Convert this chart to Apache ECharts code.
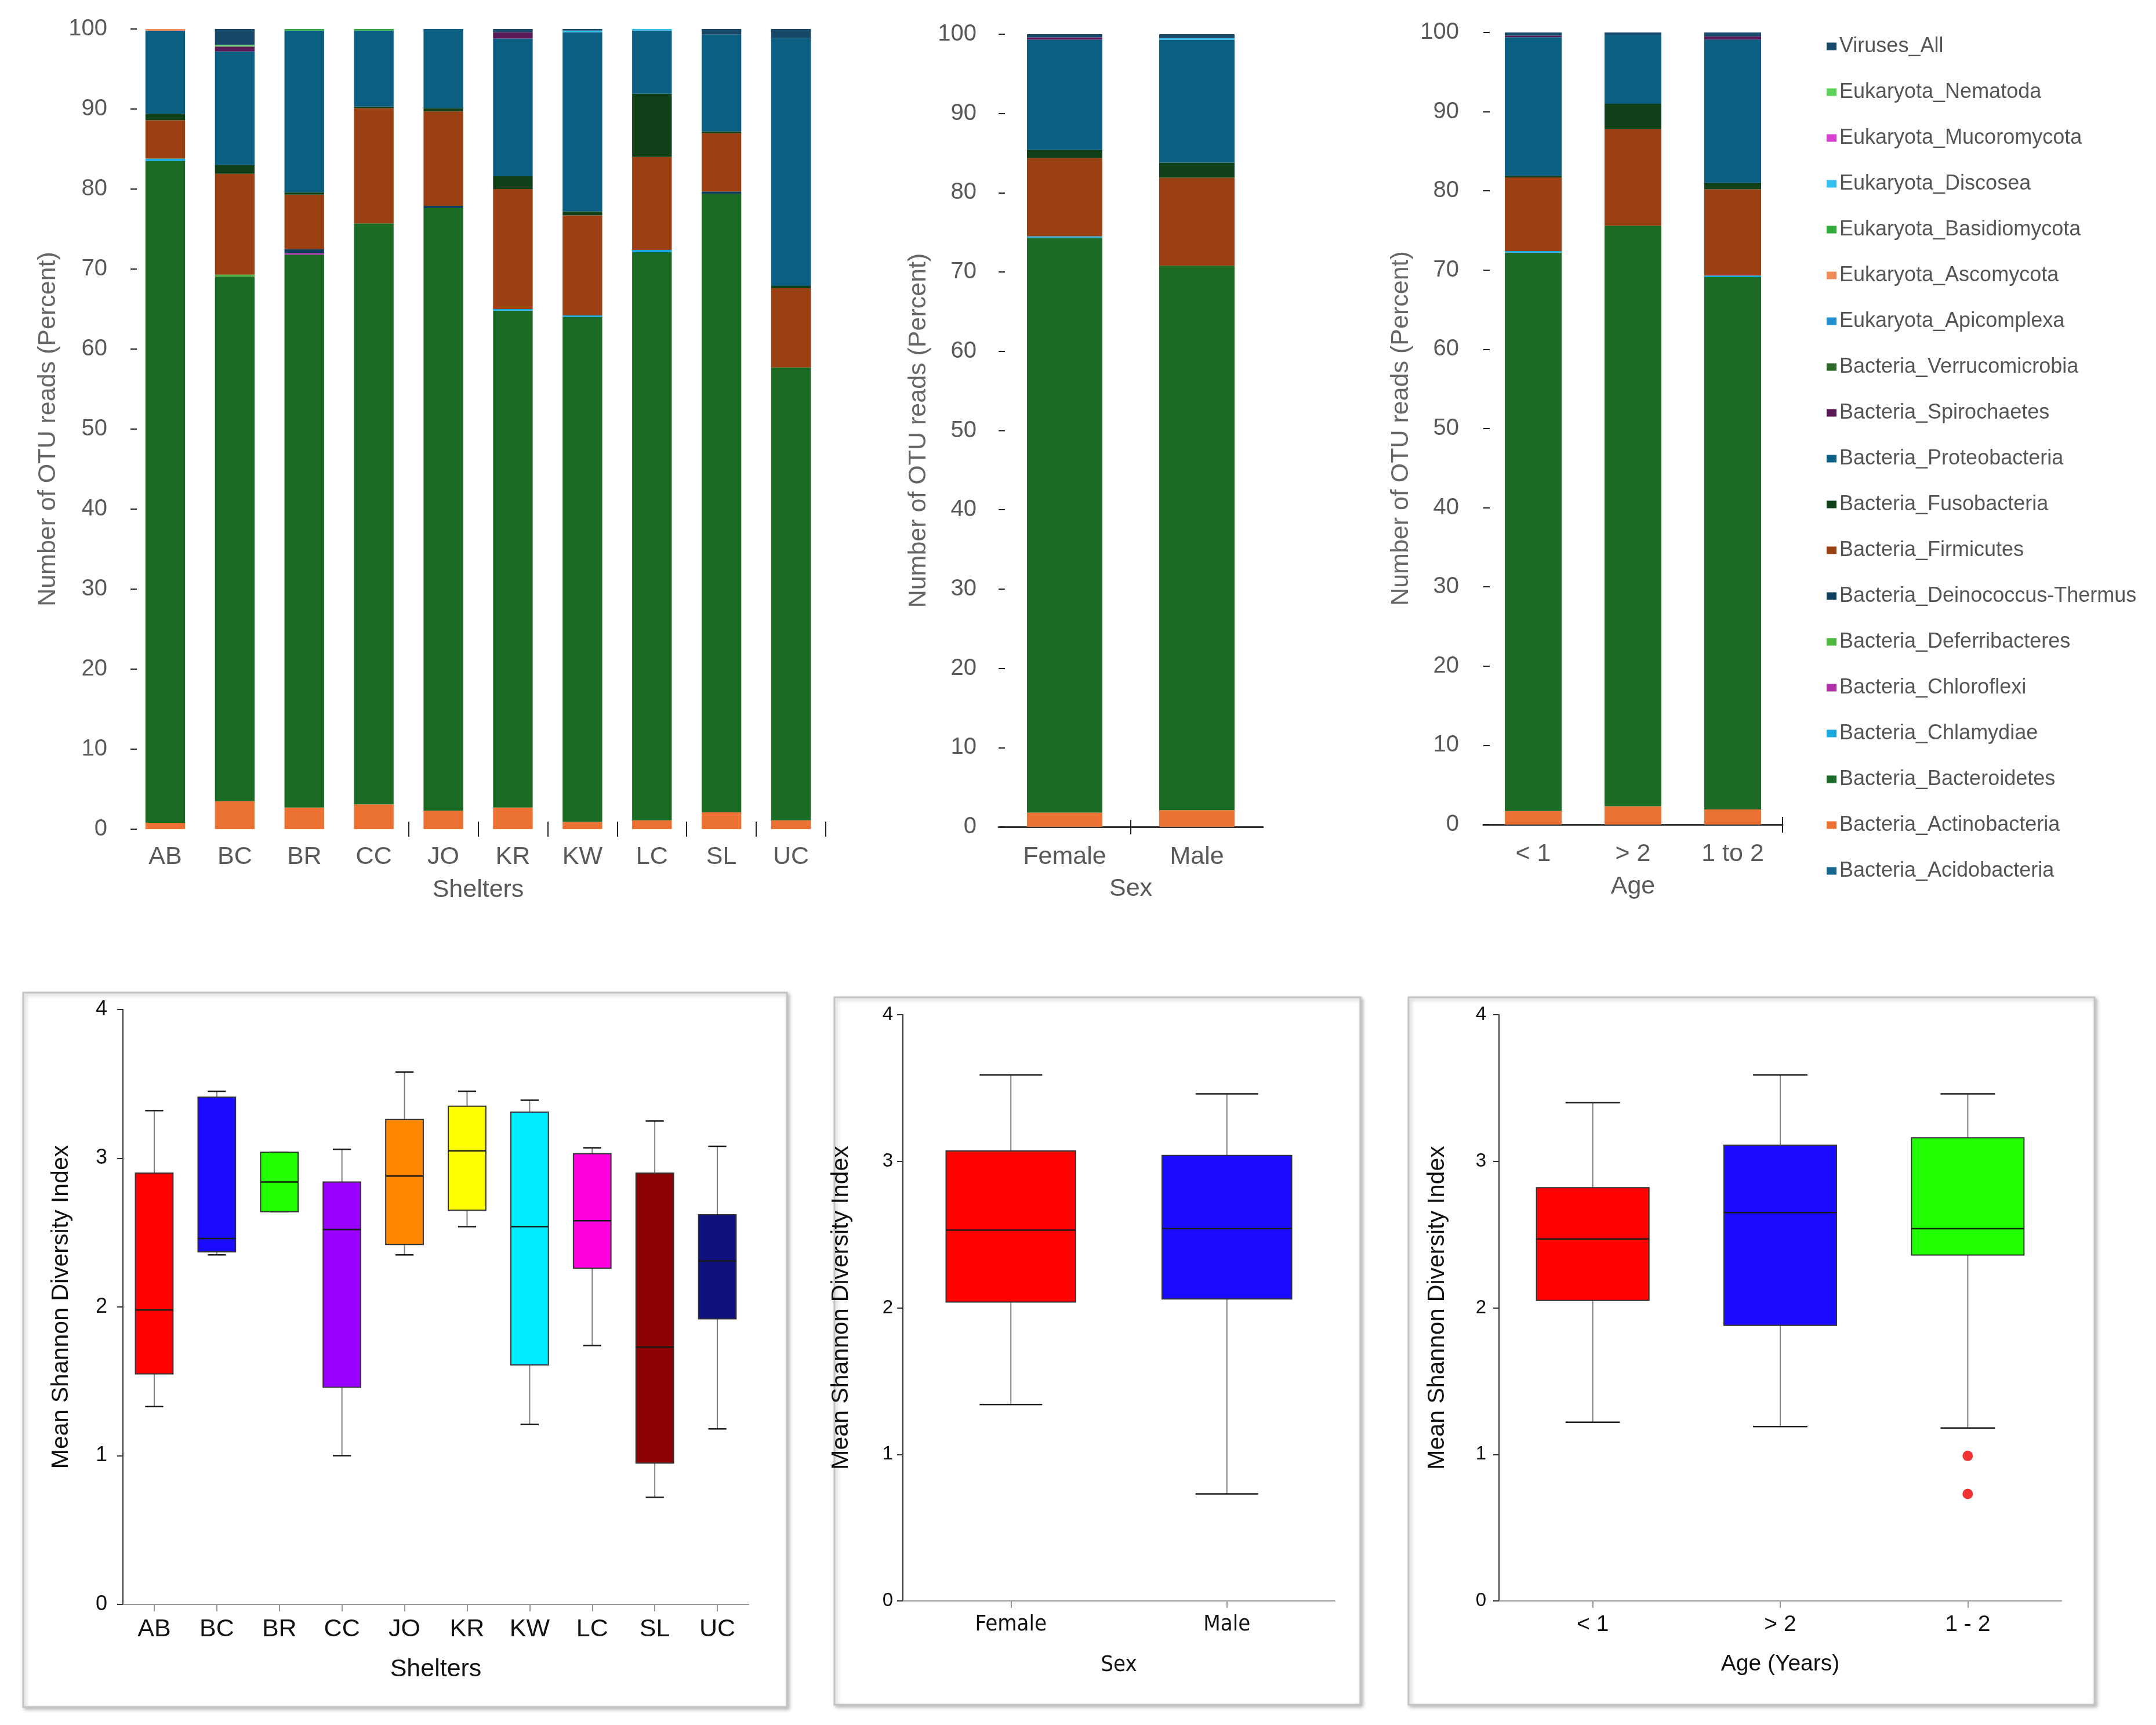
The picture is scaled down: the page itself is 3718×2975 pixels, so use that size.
<!DOCTYPE html>
<html>
<head>
<meta charset="utf-8">
<script src="https://cdn.jsdelivr.net/npm/echarts@6/dist/echarts.min.js"></script>
<style>
  html, body { margin: 0; padding: 0; background: #fff; }
  #main { width: 3718px; height: 2975px; }
</style>
</head>
<body>
<div id="main"></div>
<script>
// taxa, in stacking order (bottom -> top)
var taxa = [
  'Bacteria_Acidobacteria', 'Bacteria_Actinobacteria', 'Bacteria_Bacteroidetes',
  'Bacteria_Chlamydiae', 'Bacteria_Chloroflexi', 'Bacteria_Deferribacteres',
  'Bacteria_Deinococcus-Thermus', 'Bacteria_Firmicutes', 'Bacteria_Fusobacteria',
  'Bacteria_Proteobacteria', 'Bacteria_Spirochaetes', 'Bacteria_Verrucomicrobia',
  'Eukaryota_Apicomplexa', 'Eukaryota_Ascomycota', 'Eukaryota_Basidiomycota',
  'Eukaryota_Discosea', 'Eukaryota_Mucoromycota', 'Eukaryota_Nematoda', 'Viruses_All'
];
var taxaColors = [
  '#16678e', '#eb7233', '#1b6b25', '#1aa8e0', '#b030a8', '#4cb840',
  '#0f3f5c', '#9a4012', '#0f4018', '#0b5f82', '#5a1a5a', '#2e6b2a',
  '#2190d0', '#f08c5a', '#2eab3a', '#33c0f0', '#d63fcf', '#5fd35a', '#17486a'
];

var shelters = ['AB', 'BC', 'BR', 'CC', 'JO', 'KR', 'KW', 'LC', 'SL', 'UC'];
var sexes = ['Female', 'Male'];
var ages = ['< 1', '> 2', '1 to 2'];

// percent of OTU reads per bar, in the taxa order above
var compAB = [0, 0.8, 82.7, 0.3, 0, 0, 0, 4.8, 0.8, 10.4, 0, 0, 0, 0.2, 0, 0, 0, 0, 0];
var compBC = [0, 3.5, 65.6, 0, 0, 0.2, 0, 12.6, 1.1, 14.2, 0.6, 0, 0, 0, 0, 0, 0, 0.2, 2.0];
var compBR = [0, 2.7, 69.1, 0, 0.2, 0, 0.5, 6.8, 0.3, 20.2, 0, 0, 0, 0, 0.2, 0, 0, 0, 0];
var compCC = [0, 3.1, 72.6, 0, 0, 0, 0, 14.4, 0.2, 9.5, 0, 0, 0, 0, 0.2, 0, 0, 0, 0];
var compJO = [0, 2.3, 75.3, 0, 0, 0, 0.3, 11.8, 0.4, 9.9, 0, 0, 0, 0, 0, 0, 0, 0, 0];
var compKR = [0, 2.7, 62.1, 0.2, 0, 0, 0, 15.0, 1.6, 17.2, 0.8, 0, 0, 0, 0, 0, 0, 0, 0.4];
var compKW = [0, 0.9, 63.1, 0.2, 0, 0, 0, 12.5, 0.5, 22.4, 0, 0, 0, 0, 0, 0.2, 0, 0, 0.2];
var compLC = [0, 1.1, 71.0, 0.3, 0, 0, 0, 11.6, 7.9, 7.9, 0, 0, 0, 0, 0, 0.2, 0, 0, 0];
var compSL = [0, 2.1, 77.3, 0, 0, 0, 0.3, 7.3, 0.2, 12.1, 0, 0, 0, 0, 0, 0, 0, 0, 0.7];
var compUC = [0, 1.1, 56.6, 0, 0, 0, 0, 9.9, 0.3, 31.0, 0, 0, 0, 0, 0, 0, 0, 0, 1.1];

var compFemale = [0, 1.8, 72.5, 0.2, 0, 0, 0, 9.9, 1.0, 13.9, 0.3, 0, 0, 0, 0, 0, 0, 0, 0.4];
var compMale = [0, 2.1, 68.7, 0, 0, 0, 0, 11.1, 1.9, 15.5, 0, 0, 0, 0, 0, 0.2, 0, 0, 0.5];

var compUnder1 = [0, 1.7, 70.5, 0.2, 0, 0, 0, 9.3, 0.2, 17.5, 0.2, 0, 0, 0, 0, 0, 0, 0, 0.4];
var compOver2 = [0, 2.3, 73.3, 0, 0, 0, 0, 12.2, 3.2, 8.7, 0, 0, 0, 0, 0, 0, 0, 0, 0.3];
var comp1to2 = [0, 1.9, 67.2, 0.2, 0, 0, 0, 10.9, 0.8, 18.1, 0.4, 0, 0, 0, 0, 0, 0, 0, 0.5];

// Shannon diversity boxes: [min, Q1, median, Q3, max]
var shelterBox = [
  [1.33, 1.55, 1.98, 2.90, 3.32],
  [2.35, 2.37, 2.46, 3.41, 3.45],
  [2.64, 2.64, 2.84, 3.04, 3.04],
  [1.00, 1.46, 2.52, 2.84, 3.06],
  [2.35, 2.42, 2.88, 3.26, 3.58],
  [2.54, 2.65, 3.05, 3.35, 3.45],
  [1.21, 1.61, 2.54, 3.31, 3.39],
  [1.74, 2.26, 2.58, 3.03, 3.07],
  [0.72, 0.95, 1.73, 2.90, 3.25],
  [1.18, 1.92, 2.31, 2.62, 3.08]
];
var shelterBoxColors = ['#ff0000', '#1a0aff', '#22ff00', '#9900ff', '#ff8800',
  '#ffff00', '#00eeff', '#ff00dd', '#8b0000', '#10107f'];

var sexBox = [
  [1.34, 2.04, 2.53, 3.07, 3.59],
  [0.73, 2.06, 2.54, 3.04, 3.46]
];
var sexBoxColors = ['#ff0000', '#1a0aff'];

var ageBoxLabels = ['< 1', '> 2', '1 - 2'];
var ageBox = [
  [1.22, 2.05, 2.47, 2.82, 3.40],
  [1.19, 1.88, 2.65, 3.11, 3.59],
  [1.18, 2.36, 2.54, 3.16, 3.46]
];
var ageBoxColors = ['#ff0000', '#1a0aff', '#22ff00'];
var ageOutliers = [['1 - 2', 0.99], ['1 - 2', 0.73]];

var SANS = "'Liberation Sans', Arial, sans-serif";
var NARROW = "'Liberation Sans Narrow', 'DejaVu Sans Condensed', sans-serif";

function stackSeries(comps, axisIdx, stackId) {
  return taxa.map(function (t, k) {
    return {
      name: t, type: 'bar', stack: stackId,
      xAxisIndex: axisIdx, yAxisIndex: axisIdx,
      barWidth: '57%',
      itemStyle: { color: taxaColors[k] },
      data: comps.map(function (c) { return c[k]; })
    };
  });
}

// box with half-width whisker caps, grey whisker stems
function renderBox(params, api) {
  var i = api.value(0);
  var band = api.size([1, 0])[0];
  var half = band * 0.30, cap = band * 0.145;
  var lo = api.coord([i, api.value(1)]);
  var q1 = api.coord([i, api.value(2)]);
  var md = api.coord([i, api.value(3)]);
  var q3 = api.coord([i, api.value(4)]);
  var hi = api.coord([i, api.value(5)]);
  var cx = lo[0];
  var stem = { stroke: '#808080', lineWidth: 2 };
  var dark = { stroke: '#1a1a1a', lineWidth: 2.5 };
  return {
    type: 'group',
    children: [
      { type: 'line', shape: { x1: cx, y1: hi[1], x2: cx, y2: q3[1] }, style: stem },
      { type: 'line', shape: { x1: cx, y1: q1[1], x2: cx, y2: lo[1] }, style: stem },
      { type: 'line', shape: { x1: cx - cap, y1: hi[1], x2: cx + cap, y2: hi[1] }, style: dark },
      { type: 'line', shape: { x1: cx - cap, y1: lo[1], x2: cx + cap, y2: lo[1] }, style: dark },
      { type: 'rect', shape: { x: cx - half, y: q3[1], width: half * 2, height: q1[1] - q3[1] },
        style: { fill: api.visual('color'), stroke: '#333', lineWidth: 2 } },
      { type: 'line', shape: { x1: cx - half, y1: md[1], x2: cx + half, y2: md[1] }, style: dark }
    ]
  };
}

function boxSeries(rows, colors, axisIdx) {
  return {
    type: 'custom', xAxisIndex: axisIdx, yAxisIndex: axisIdx,
    renderItem: renderBox,
    encode: { x: 0, y: [1, 2, 3, 4, 5] },
    data: rows.map(function (r, i) {
      return { value: [i].concat(r), itemStyle: { color: colors[i] } };
    })
  };
}

function topY(grid, gap, margin) {
  return {
    type: 'value', gridIndex: grid, min: 0, max: 100, interval: 10,
    name: 'Number of OTU reads (Percent)', nameLocation: 'middle', nameGap: gap,
    nameTextStyle: { color: '#666', fontSize: 43, fontFamily: SANS },
    axisLine: { show: false },
    axisTick: { show: true, inside: true, length: 11, lineStyle: { color: '#222', width: 2 } },
    axisLabel: { color: '#595959', fontSize: 40, fontFamily: SANS, margin: margin },
    splitLine: { show: false }
  };
}

function boxY(grid, gap, margin, fs) {
  return {
    type: 'value', gridIndex: grid, min: 0, max: 4, interval: 1,
    name: 'Mean Shannon Diversity Index', nameLocation: 'middle', nameGap: gap,
    nameTextStyle: { color: '#111', fontSize: 41, fontFamily: SANS },
    axisLine: { show: true, lineStyle: { color: '#333', width: 2 } },
    axisTick: { show: true, length: 10, lineStyle: { color: '#333', width: 2 } },
    axisLabel: { color: '#111', fontSize: fs, fontFamily: SANS, margin: margin },
    splitLine: { show: false }
  };
}

function boxX(grid, cats, name, gap, fs, family) {
  return {
    type: 'category', gridIndex: grid, data: cats, position: 'bottom',
    name: name, nameLocation: 'middle', nameGap: gap,
    nameTextStyle: { color: '#111', fontSize: fs, fontFamily: family },
    axisLine: { show: true, lineStyle: { color: '#999', width: 2 } },
    axisTick: { show: true, alignWithLabel: true, length: 12, lineStyle: { color: '#999', width: 2 } },
    axisLabel: { color: '#111', fontSize: fs, fontFamily: family, margin: 22 }
  };
}

var series = []
  .concat(stackSeries([compAB, compBC, compBR, compCC, compJO, compKR, compKW, compLC, compSL, compUC], 0, 'shelter'))
  .concat(stackSeries([compFemale, compMale], 1, 'sex'))
  .concat(stackSeries([compUnder1, compOver2, comp1to2], 2, 'age'));

series.push(boxSeries(shelterBox, shelterBoxColors, 3));
series.push(boxSeries(sexBox, sexBoxColors, 4));
series.push(boxSeries(ageBox, ageBoxColors, 5));
series.push({
  type: 'scatter', xAxisIndex: 5, yAxisIndex: 5, symbolSize: 18,
  itemStyle: { color: '#ee0000' }, data: ageOutliers
});

var panelStyle = { fill: '#fff', stroke: '#c4c4c4', lineWidth: 3, shadowBlur: 6,
  shadowOffsetX: 3, shadowOffsetY: 3, shadowColor: 'rgba(0,0,0,0.25)' };

var option = {
  animation: false,
  backgroundColor: '#fff',
  legend: {
    orient: 'vertical', left: 3145, top: 57,
    itemWidth: 17, itemHeight: 13, itemGap: 43,
    icon: 'rect',
    textStyle: { color: '#555', fontSize: 36, fontFamily: SANS },
    data: taxa.slice().reverse()
  },
  graphic: [
    { type: 'rect', shape: { x: 40, y: 1712, width: 1317, height: 1232 }, z: -1, style: panelStyle },
    { type: 'rect', shape: { x: 1439, y: 1720, width: 907, height: 1220 }, z: -1, style: panelStyle },
    { type: 'rect', shape: { x: 2429, y: 1720, width: 1183, height: 1220 }, z: -1, style: panelStyle }
  ],
  grid: [
    { left: 225, top: 50, width: 1199, height: 1380 },
    { left: 1722, top: 59, width: 456, height: 1367 },
    { left: 2558, top: 56, width: 516, height: 1366 },
    { left: 212, top: 1741, width: 1079, height: 1026 },
    { left: 1557, top: 1750, width: 745, height: 1011 },
    { left: 2585, top: 1750, width: 970, height: 1011 }
  ],
  xAxis: [
    {
      type: 'category', gridIndex: 0, data: shelters, position: 'bottom', offset: -13,
      name: 'Shelters', nameLocation: 'middle', nameGap: 97,
      nameTextStyle: { color: '#595959', fontSize: 43, fontFamily: SANS },
      axisLine: { show: false },
      axisTick: { show: true, length: 26, interval: function (i) { return i >= 4; }, lineStyle: { color: '#222', width: 2 } },
      axisLabel: { color: '#595959', fontSize: 43, fontFamily: SANS, margin: 40 }
    },
    {
      type: 'category', gridIndex: 1, data: sexes, position: 'bottom',
      name: 'Sex', nameLocation: 'middle', nameGap: 86,
      nameTextStyle: { color: '#595959', fontSize: 43, fontFamily: SANS },
      axisLine: { show: true, lineStyle: { color: '#333', width: 3 } },
      axisTick: { show: false },
      axisLabel: { color: '#595959', fontSize: 43, fontFamily: SANS, margin: 31 }
    },
    {
      type: 'category', gridIndex: 2, data: ages, position: 'bottom',
      name: 'Age', nameLocation: 'middle', nameGap: 86,
      nameTextStyle: { color: '#595959', fontSize: 43, fontFamily: SANS },
      axisLine: { show: true, lineStyle: { color: '#333', width: 3 } },
      axisTick: { show: false },
      axisLabel: { color: '#595959', fontSize: 43, fontFamily: SANS, margin: 30 }
    },
    boxX(3, shelters, 'Shelters', 91, 43, SANS),
    boxX(4, sexes, 'Sex', 92, 38, NARROW),
    boxX(5, ageBoxLabels, 'Age (Years)', 90, 39, SANS),
    // tick-only decoration axes for the Sex / Age stacked panels
    {
      type: 'category', gridIndex: 1, data: ['', '', ''], boundaryGap: false, position: 'bottom', offset: -12,
      axisLine: { show: false }, axisLabel: { show: false },
      axisTick: { show: true, length: 25, interval: function (i) { return i === 1; }, lineStyle: { color: '#222', width: 2 } }
    },
    {
      type: 'category', gridIndex: 2, data: ['', ''], boundaryGap: false, position: 'bottom', offset: -13,
      axisLine: { show: false }, axisLabel: { show: false },
      axisTick: { show: true, length: 27, interval: function (i) { return i === 1; }, lineStyle: { color: '#222', width: 2 } }
    }
  ],
  yAxis: [
    topY(0, 120, 40),
    topY(1, 116, 38),
    topY(2, 120, 42),
    boxY(3, 86, 27, 36),
    boxY(4, 86, 17, 33),
    boxY(5, 86, 22, 33)
  ],
  series: series
};

var chart = echarts.init(document.getElementById('main'));
chart.setOption(option);
</script>
</body>
</html>
